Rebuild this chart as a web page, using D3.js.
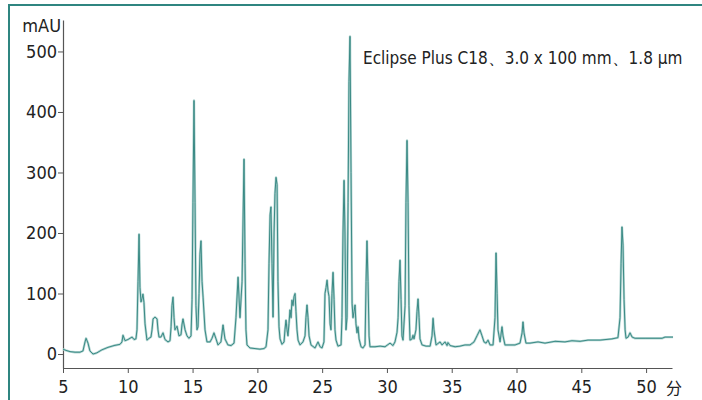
<!DOCTYPE html>
<html lang="zh">
<head>
	<meta charset="UTF-8">
	<title>Eclipse Plus C18 chromatogram</title>
	<script src="https://cdn.jsdelivr.net/npm/d3@7"></script>
	<style>
		body { margin: 0; background: #fff; }
		.axis text { font-family: 'DejaVu Sans Condensed', 'Liberation Sans Narrow', sans-serif; font-size: 18px; fill: #222; }
		.axis path, .axis line { stroke: #555; }
	</style>
</head>
<body>
	<div id="vis"></div>

	<script>
		var width = 702;
		var height = 400;

		// retention time (min) and detector signal (mAU)
		var retentionTime = [5.00,5.23,5.54,5.93,6.31,6.54,6.70,6.78,6.93,7.08,7.32,7.62,8.01,8.47,8.94,9.40,9.55,9.63,9.79,10.02,
			10.17,10.33,10.48,10.63,10.71,10.79,10.87,10.94,11.02,11.10,11.17,11.25,11.33,11.48,11.64,11.79,11.87,11.95,12.10,12.26,
			12.33,12.41,12.56,12.72,12.87,13.10,13.26,13.34,13.41,13.49,13.57,13.64,13.80,13.95,14.11,14.18,14.26,14.42,14.57,14.72,
			14.88,14.96,15.03,15.11,15.19,15.26,15.34,15.42,15.50,15.57,15.65,15.73,15.81,15.96,16.11,16.35,16.50,16.65,16.81,16.96,
			17.19,17.35,17.50,17.73,17.97,18.20,18.35,18.51,18.66,18.82,18.97,19.05,19.12,19.20,19.43,19.82,20.20,20.51,20.67,20.82,
			20.90,20.98,21.05,21.13,21.21,21.29,21.36,21.44,21.52,21.59,21.67,21.75,21.90,22.06,22.13,22.21,22.29,22.36,22.44,22.52,
			22.60,22.67,22.75,22.83,22.91,22.98,23.06,23.14,23.29,23.52,23.68,23.75,23.83,23.91,23.99,24.14,24.45,24.68,24.84,24.99,
			25.14,25.22,25.30,25.38,25.45,25.53,25.61,25.68,25.76,25.84,25.92,25.99,26.07,26.22,26.46,26.53,26.61,26.69,26.76,26.84,
			26.92,27.00,27.07,27.15,27.23,27.31,27.38,27.46,27.54,27.61,27.69,27.77,27.85,28.00,28.15,28.31,28.39,28.46,28.54,28.62,
			28.69,29.08,29.47,29.85,30.24,30.47,30.62,30.78,30.86,30.93,31.01,31.09,31.16,31.24,31.40,31.47,31.55,31.63,31.70,31.78,
			31.94,32.01,32.09,32.24,32.32,32.40,32.48,32.55,32.71,33.02,33.33,33.48,33.56,33.63,33.79,34.10,34.25,34.48,34.64,34.71,
			34.87,35.26,35.64,36.03,36.41,36.72,36.95,37.18,37.34,37.49,37.65,37.80,37.96,38.19,38.34,38.42,38.50,38.57,38.73,38.88,
			38.96,39.11,39.50,39.89,40.27,40.43,40.50,40.58,40.73,41.04,41.66,42.20,42.97,43.74,44.28,44.90,45.52,46.45,47.37,47.83,
			47.99,48.07,48.14,48.22,48.30,48.38,48.45,48.61,48.76,48.92,49.15,49.92,50.69,51.23,51.46,52.08];

		var absorbance = [8,6,4,3,3,5,20,26,18,5,0,2,7,11,14,16,20,31,22,24,
			26,28,24,25,40,120,198,110,86,92,99,85,50,23,26,28,40,58,61,58,
			40,28,28,35,24,20,22,45,80,94,60,40,46,30,32,48,58,40,30,26,
			30,90,250,419,250,80,40,45,100,165,187,120,94,40,20,20,26,35,25,15,
			20,48,25,15,14,18,60,127,60,120,322,150,40,15,10,9,8,9,12,40,
			150,230,243,150,61,200,265,292,280,120,45,25,16,20,40,56,40,30,50,73,
			60,89,80,95,100,70,40,23,15,20,30,60,81,60,30,15,10,20,12,10,
			20,100,110,122,105,95,50,40,100,135,90,40,23,13,15,60,200,287,200,40,
			60,250,450,525,300,84,60,70,81,50,35,45,25,12,10,15,120,187,120,30,
			12,12,13,12,18,14,20,36,60,120,155,90,30,23,80,250,353,250,80,23,
			25,31,25,40,70,91,60,25,15,13,13,30,59,40,15,20,15,20,14,19,
			14,12,13,15,15,20,30,40,30,20,18,23,15,15,60,167,100,40,20,45,
			30,15,15,15,18,35,53,35,18,18,20,18,21,20,22,21,23,23,25,27,
			60,150,210,180,90,40,26,28,35,28,26,26,26,26,28,28];

		var xTicks = [5, 10, 15, 20, 25, 30, 35, 40, 45, 50];
		var yTicks = [0, 100, 200, 300, 400, 500];
		var yLabel = "mAU";
		var xUnit = "分";
		var title = "Eclipse Plus C18、3.0 x 100 mm、1.8 μm";

		var trace = retentionTime.map(function(t, i) { return [t, absorbance[i]]; });

		var svg = d3.select("#vis").append("svg")
				.attr("width", width)
				.attr("height", height);

		// frame round the figure (only left and top edges are in view)
		svg.append("rect")
			.attr("x", 9)
			.attr("y", 5)
			.attr("width", 720)
			.attr("height", 420)
			.attr("fill", "none")
			.attr("stroke", "#2f8580")
			.attr("stroke-width", 2);

		var x = d3.scaleLinear().domain([5, 52]).range([63, 672]);
		var y = d3.scaleLinear().domain([-23.1, 552]).range([368, 20]);

		var xAxis = d3.axisBottom(x)
				.tickValues(xTicks)
				.tickSize(5)
				.tickSizeOuter(0)
				.tickPadding(7)
				.tickFormat(d3.format("d"));

		var yAxis = d3.axisLeft(y)
				.tickValues(yTicks)
				.tickSize(5)
				.tickSizeOuter(0)
				.tickPadding(1)
				.tickFormat(d3.format("d"));

		svg.append("g")
			.attr("class", "axis")
			.attr("transform", "translate(0," + y.range()[0] + ")")
			.call(xAxis);

		svg.append("g")
			.attr("class", "axis")
			.attr("transform", "translate(" + x.range()[0] + ",0)")
			.call(yAxis);

		svg.selectAll(".axis .domain").attr("stroke-width", 1.2);

		var labelFont = "'DejaVu Sans Condensed', 'Liberation Sans Narrow', sans-serif";

		// unit labels
		svg.append("text")
			.attr("x", x.range()[0] - 2)
			.attr("y", 32)
			.attr("text-anchor", "end")
			.style("font-family", labelFont)
			.style("font-size", "18px")
			.attr("fill", "#222")
			.text(yLabel);

		svg.append("text")
			.attr("x", x(50) + 20)
			.attr("y", 394)
			.style("font-family", "'Noto Sans CJK SC', sans-serif")
			.style("font-size", "16px")
			.attr("fill", "#222")
			.text(xUnit);

		// column description
		svg.append("text")
			.attr("x", 363)
			.attr("y", 64)
			.style("font-family", labelFont)
			.style("font-size", "17px")
			.attr("fill", "#222")
			.text(title);

		// chromatogram: soft halo underneath, darker line on top
		var line = d3.line()
				.x(function(d) { return x(d[0]); })
				.y(function(d) { return y(d[1]); });

		svg.append("path")
			.datum(trace)
			.attr("d", line)
			.attr("fill", "none")
			.attr("stroke", "#b3d5d2")
			.attr("stroke-width", 2.4)
			.attr("stroke-linejoin", "round");

		svg.append("path")
			.datum(trace)
			.attr("d", line)
			.attr("fill", "none")
			.attr("stroke", "#3a8a85")
			.attr("stroke-width", 1)
			.attr("stroke-linejoin", "round");
	</script>
</body>
</html>
